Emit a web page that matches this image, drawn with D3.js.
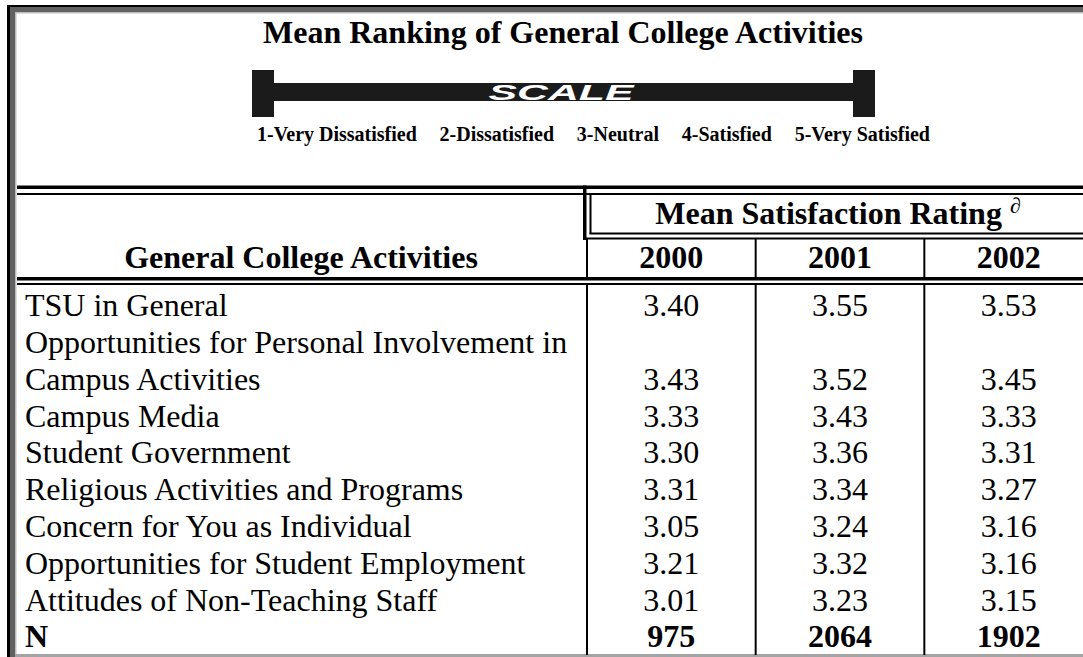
<!DOCTYPE html>
<head>
  <meta charset="utf-8">
  <script src="https://d3js.org/d3.v7.min.js"></script>
  <style>
    body { margin:0; background:#fff; }
    text { font-family: "Liberation Serif", "Times New Roman", serif; fill:#000; }
  </style>
</head>
<body>
<script>
  var title = "Mean Ranking of General College Activities";
  var scaleLabels = ["1-Very Dissatisfied", "2-Dissatisfied", "3-Neutral", "4-Satisfied", "5-Very Satisfied"];
  var years = ["2000", "2001", "2002"];
  var categories = [
    "TSU in General",
    "Opportunities for Personal Involvement in\nCampus Activities",
    "Campus Media",
    "Student Government",
    "Religious Activities and Programs",
    "Concern for You as Individual",
    "Opportunities for Student Employment",
    "Attitudes of Non-Teaching Staff"
  ];
  var v2000 = [3.40, 3.43, 3.33, 3.30, 3.31, 3.05, 3.21, 3.01];
  var v2001 = [3.55, 3.52, 3.43, 3.36, 3.34, 3.24, 3.32, 3.23];
  var v2002 = [3.53, 3.45, 3.33, 3.31, 3.27, 3.16, 3.16, 3.15];
  var counts = [975, 2064, 1902];

  var width = 1083, height = 657;
  var svg = d3.select("body").append("svg")
    .attr("width", width).attr("height", height);

  // frame (left + top only, the rest is cut off)
  svg.append("rect").attr("x", 7).attr("y", 5).attr("width", width).attr("height", height).attr("fill", "#000");
  svg.append("rect").attr("x", 10).attr("y", 7).attr("width", width).attr("height", height).attr("fill", "#616161");
  svg.append("rect").attr("x", 15).attr("y", 12).attr("width", width).attr("height", height).attr("fill", "#bdbdbd");
  svg.append("rect").attr("x", 16.5).attr("y", 13.5).attr("width", width).attr("height", 640.5).attr("fill", "#fff");
  svg.append("rect").attr("x", 15).attr("y", 654).attr("width", width).attr("height", 3).attr("fill", "#a4a4a4");

  var cx = 563;
  svg.append("text").attr("x", cx).attr("y", 43).attr("text-anchor", "middle")
    .attr("font-size", 32).attr("font-weight", "bold").text(title);

  // scale graphic
  var sx = d3.scaleLinear().domain([0, 1]).range([252, 875]);
  var sg = svg.append("g").attr("fill", "#1b1b1b");
  sg.append("rect").attr("x", sx(0)).attr("y", 70).attr("width", 22).attr("height", 47);
  sg.append("rect").attr("x", sx(1) - 22).attr("y", 70).attr("width", 22).attr("height", 47);
  sg.append("rect").attr("x", sx(0) + 22).attr("y", 83).attr("width", sx(1) - sx(0) - 44).attr("height", 18);
  svg.append("text").attr("x", 561).attr("y", 100).attr("text-anchor", "middle")
    .style("font-family", "'Liberation Sans', Arial, sans-serif")
    .attr("font-size", 22).attr("font-weight", "bold").attr("font-style", "italic")
    .attr("textLength", 145).attr("lengthAdjust", "spacingAndGlyphs")
    .style("fill", "#fff").text("SCALE");

  var lbl = svg.append("g").selectAll("text").data(scaleLabels).enter().append("text")
    .attr("y", 141).attr("font-size", 20).attr("font-weight", "bold").text(function(d) { return d; });
  var lw = lbl.nodes().map(function(n) { return n.getComputedTextLength(); });
  var span = [257, 930];
  var gap = (span[1] - span[0] - d3.sum(lw)) / (lw.length - 1);
  var acc = span[0];
  lbl.attr("x", function(d, i) { var x = acc; acc += lw[i] + gap; return x; });

  // table geometry
  var col = d3.scaleBand().domain(years).range([587, 1093]);
  var lines = [];
  categories.forEach(function(c, i) {
    var parts = c.split("\n");
    parts.forEach(function(p, j) {
      lines.push({ label: p, idx: j === parts.length - 1 ? i : -1 });
    });
  });
  lines.push({ label: "N", idx: "N" });
  var row = d3.scaleLinear().domain([0, lines.length]).range([287, 655]);

  var ln = svg.append("g");
  function hline(y, h, x0) {
    ln.append("rect").attr("x", x0 || 17).attr("y", y).attr("width", width).attr("height", h).attr("fill", "#000");
  }
  function vline(x, y0, y1, w) {
    ln.append("rect").attr("x", x).attr("y", y0).attr("width", w || 2).attr("height", y1 - y0).attr("fill", "#000");
  }
  hline(185.5, 3.5);
  hline(193, 2);
  hline(277, 3.5);
  hline(283, 2);
  // double border around the "Mean Satisfaction Rating" cell
  vline(583, 185.5, 240, 3.5);
  vline(589.5, 193, 234, 2);
  hline(232.5, 2, 589.5);
  hline(237.5, 2, 583);
  col.domain().forEach(function(y) {
    vline(col(y) - 1, 239, 278);
    vline(col(y) - 1, 284, 655);
  });

  svg.append("text").attr("x", 301).attr("y", 268).attr("text-anchor", "middle")
    .attr("font-size", 32).attr("font-weight", "bold").text("General College Activities");
  var mt = svg.append("text").attr("x", 838).attr("y", 224).attr("text-anchor", "middle")
    .attr("font-size", 32).attr("font-weight", "bold");
  mt.append("tspan").text("Mean Satisfaction Rating ");
  mt.append("tspan").attr("dy", -11).attr("font-size", 22).attr("font-weight", "normal")
    .attr("font-style", "italic").text("\u2202");

  svg.append("g").selectAll("text").data(years).enter().append("text")
    .attr("x", function(d) { return col(d) + col.bandwidth() / 2; }).attr("y", 268)
    .attr("text-anchor", "middle").attr("font-size", 32).attr("font-weight", "bold")
    .text(function(d) { return d; });

  // body rows
  var series = [v2000, v2001, v2002];
  var fmt = d3.format(".2f");
  var rows = svg.append("g").selectAll("g").data(lines).enter().append("g")
    .attr("transform", function(d, i) { return "translate(0," + (row(i) + 29.2) + ")"; })
    .attr("font-weight", function(d) { return d.idx === "N" ? "bold" : "normal"; });
  rows.append("text").attr("x", 25).attr("font-size", 32).text(function(d) { return d.label; });
  rows.filter(function(d) { return d.idx !== -1; }).selectAll(".v")
    .data(function(d) {
      return years.map(function(y, k) {
        return { year: y, text: d.idx === "N" ? String(counts[k]) : fmt(series[k][d.idx]) };
      });
    })
    .enter().append("text").attr("class", "v")
    .attr("x", function(d) { return col(d.year) + col.bandwidth() / 2; })
    .attr("text-anchor", "middle").attr("font-size", 32)
    .text(function(d) { return d.text; });
</script>
</body>
